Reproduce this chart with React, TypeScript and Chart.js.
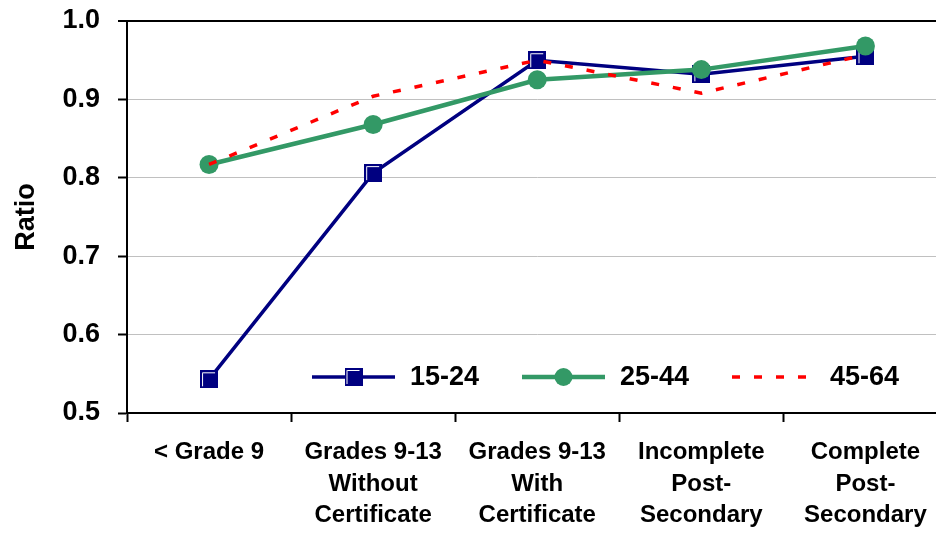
import React, { useEffect, useRef } from "react";
import { Chart, registerables } from "chart.js";

Chart.register(...registerables);

// Education level categories (multi-line axis labels)
const categories: string[][] = [
  ["< Grade 9"],
  ["Grades 9-13", "Without", "Certificate"],
  ["Grades 9-13", "With", "Certificate"],
  ["Incomplete", "Post-", "Secondary"],
  ["Complete", "Post-", "Secondary"],
];

// Ratio by age group
const age15to24 = [0.543, 0.806, 0.95, 0.932, 0.955];
const age25to44 = [0.817, 0.868, 0.925, 0.938, 0.968];
const age45to64 = [0.817, 0.904, 0.95, 0.908, 0.957];

const seriesLabels = ["15-24", "25-44", "45-64"];
const yTicks = [0.5, 0.6, 0.7, 0.8, 0.9, 1.0];

const NAVY = "#000080";
const GREEN = "#339966";
const RED = "#ff0000";
const FONT = '"Liberation Sans", Arial, Helvetica, sans-serif';

// Navy square marker with a white inset highlight on the top and left edges
function makeSquareMarker(size: number): HTMLCanvasElement {
  const c = document.createElement("canvas");
  c.width = size;
  c.height = size;
  const g = c.getContext("2d")!;
  g.fillStyle = NAVY;
  g.fillRect(0, 0, size, size);
  g.strokeStyle = "#ffffff";
  g.lineWidth = 1;
  g.beginPath();
  g.moveTo(2.5, size - 2);
  g.lineTo(2.5, 2.5);
  g.lineTo(size - 3, 2.5);
  g.stroke();
  return c;
}

// Legend drawn inside the plot area, near the bottom
const insideLegend = {
  id: "insideLegend",
  afterDatasetsDraw(chart: any, _args: any, opts: any) {
    const { ctx, chartArea } = chart;
    const square: HTMLCanvasElement = opts.square;
    const y = chartArea.bottom - 36;
    const x0 = chartArea.left + 185;
    const step = 210;
    const lineLen = 83;
    ctx.save();
    ctx.font = `bold 27px ${FONT}`;
    ctx.fillStyle = "#000";
    ctx.textBaseline = "middle";
    ctx.textAlign = "left";
    seriesLabels.forEach((label, i) => {
      const x = x0 + i * step;
      ctx.beginPath();
      ctx.moveTo(x, y);
      ctx.lineTo(x + lineLen, y);
      if (i === 0) {
        ctx.strokeStyle = NAVY;
        ctx.lineWidth = 3.5;
        ctx.setLineDash([]);
      } else if (i === 1) {
        ctx.strokeStyle = GREEN;
        ctx.lineWidth = 4.5;
        ctx.setLineDash([]);
      } else {
        ctx.strokeStyle = RED;
        ctx.lineWidth = 3.5;
        ctx.setLineDash([8, 14]);
      }
      ctx.lineCap = "butt";
      ctx.stroke();
      ctx.setLineDash([]);
      const mx = x + lineLen / 2;
      if (i === 0) {
        ctx.drawImage(square, mx - square.width / 2, y - square.height / 2);
      } else if (i === 1) {
        ctx.beginPath();
        ctx.fillStyle = GREEN;
        ctx.arc(mx, y, 9, 0, Math.PI * 2);
        ctx.fill();
      }
      ctx.fillStyle = "#000";
      ctx.fillText(label, x + lineLen + 15, y + 1);
    });
    ctx.restore();
  },
};

export default function App() {
  const ref = useRef<HTMLCanvasElement>(null);

  useEffect(() => {
    if (!ref.current) return;
    const square = makeSquareMarker(18);
    const chart = new Chart(ref.current, {
      type: "line",
      data: {
        labels: categories,
        datasets: [
          {
            label: seriesLabels[0],
            data: age15to24,
            borderColor: NAVY,
            backgroundColor: NAVY,
            borderWidth: 3.5,
            pointStyle: square as any,
            pointRadius: 9,
            pointHoverRadius: 9,
            order: 3,
          },
          {
            label: seriesLabels[1],
            data: age25to44,
            borderColor: GREEN,
            backgroundColor: GREEN,
            borderWidth: 4.5,
            pointStyle: "circle",
            pointRadius: 9.5,
            pointBorderWidth: 0,
            pointHoverRadius: 9.5,
            order: 2,
          },
          {
            label: seriesLabels[2],
            data: age45to64,
            borderColor: RED,
            backgroundColor: RED,
            borderWidth: 3.5,
            borderDash: [8, 14],
            pointRadius: 0,
            pointHoverRadius: 0,
            order: 1,
          },
        ],
      },
      options: {
        responsive: false,
        animation: false,
        layout: { padding: { top: 21, right: 11.5, left: 0, bottom: 0 } },
        plugins: {
          legend: { display: false },
          tooltip: { enabled: false },
          insideLegend: { square },
        } as any,
        scales: {
          x: {
            type: "category",
            offset: true,
            border: { display: true, color: "#000", width: 2 },
            grid: {
              offset: true,
              drawOnChartArea: false,
              drawTicks: true,
              tickLength: 9,
              tickColor: "#000",
              tickWidth: 2,
            },
            ticks: {
              color: "#000",
              padding: 14,
              maxRotation: 0,
              autoSkip: false,
              font: { family: FONT, size: 24, weight: "bold", lineHeight: 1.33 },
            },
            afterFit: (s: any) => {
              s.height = 121;
              s.paddingLeft = 0;
              s.paddingRight = 0;
            },
          },
          y: {
            min: yTicks[0],
            max: yTicks[yTicks.length - 1],
            border: { display: true, color: "#000", width: 2 },
            grid: {
              color: (c: any) => (Math.abs(c.tick.value - 1) < 1e-6 ? "#000" : "#c0c0c0"),
              lineWidth: (c: any) => (Math.abs(c.tick.value - 1) < 1e-6 ? 2 : 1),
              tickLength: 9,
              tickColor: "#000",
              tickWidth: 2,
            },
            afterBuildTicks: (s: any) => {
              s.ticks = yTicks.map((v) => ({ value: v }));
            },
            ticks: {
              color: "#000",
              padding: 18,
              font: { family: FONT, size: 27, weight: "bold" },
              callback: (v: any) => Number(v).toFixed(1),
            },
            title: {
              display: true,
              text: "Ratio",
              color: "#000",
              padding: { top: 10, bottom: 0 },
              font: { family: FONT, size: 27, weight: "bold" },
            },
            afterFit: (s: any) => {
              s.width = 127;
              s.paddingTop = 0;
              s.paddingBottom = 0;
            },
          },
        },
      },
      plugins: [insideLegend],
    });
    return () => chart.destroy();
  }, []);

  return (
    <div
      style={{
        position: "absolute",
        left: 0,
        top: 0,
        width: 936,
        height: 534,
        overflow: "hidden",
        background: "#fff",
      }}
    >
      <canvas ref={ref} width={960} height={534} style={{ width: 960, height: 534 }} />
    </div>
  );
}
